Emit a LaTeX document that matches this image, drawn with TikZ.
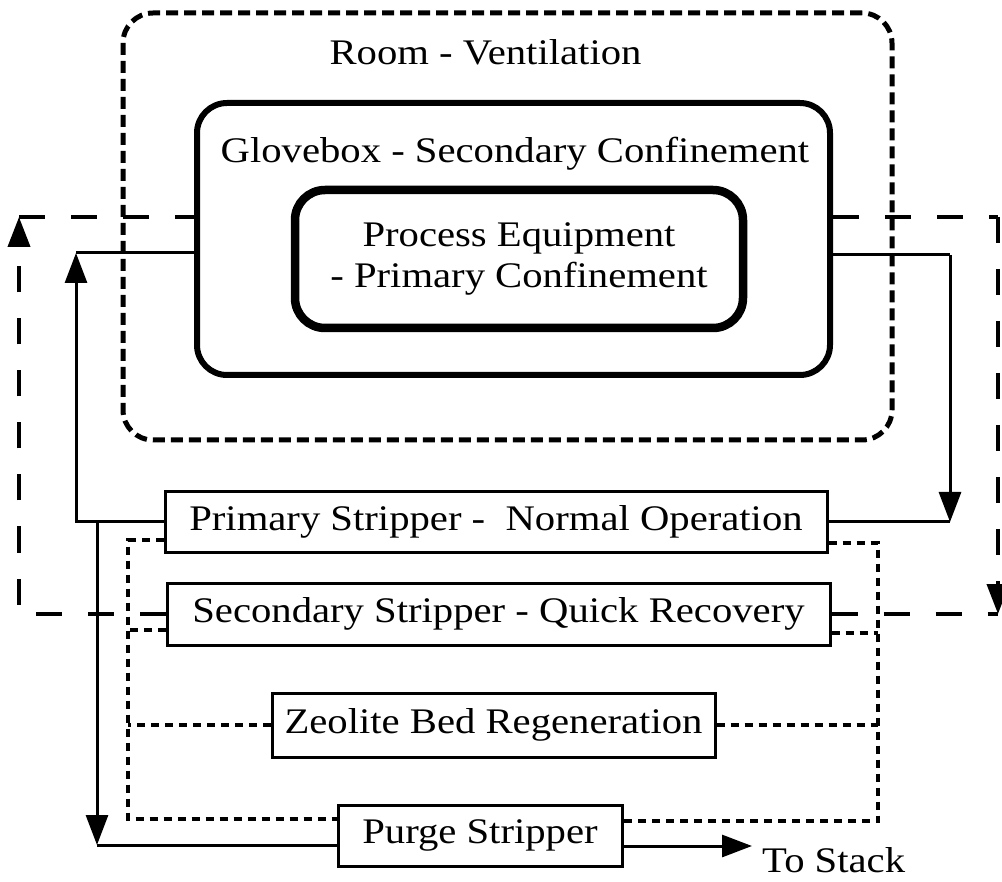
\documentclass[tikz,border=0pt]{standalone}
\usepackage{fontspec}
\setmainfont{Liberation Serif}[FakeStretch=1.13]
\usetikzlibrary{arrows.meta}

\begin{document}
\begin{tikzpicture}[x=1pt,y=-1pt,
  >={Triangle[length=30pt,width=22pt]},
  txt/.style={font=\fontsize{36}{41}\selectfont, inner sep=0pt},
  roombox/.style={draw, line width=5pt, dash pattern=on 12pt off 6pt,
    rounded corners=30pt, inner sep=0pt},
  glovebox/.style={draw, line width=6pt, rounded corners=30pt, inner sep=0pt},
  procbox/.style={draw, line width=8.5pt, rounded corners=30pt, inner sep=0pt,
    align=center, font=\fontsize{36}{41}\selectfont},
  stripbox/.style={draw, line width=3pt, fill=white, inner sep=0pt,
    font=\fontsize{36}{41}\selectfont},
  flow/.style={line width=3pt},
  bypass/.style={line width=4pt, dash pattern=on 26pt off 26pt},
  regen/.style={line width=4pt, dash pattern=on 8pt off 6pt},
]
\useasboundingbox (0,0) rectangle (1002,882);

% confinement layers
\node[roombox, minimum width=769pt, minimum height=427pt] (room) at (507.5,226.5) {};
\node[glovebox, minimum width=633pt, minimum height=272pt] (gb) at (513.5,239) {};
\node[procbox, minimum width=448pt, minimum height=138pt] (proc) at (519,259)
  {Process Equipment\\- Primary Confinement};
\node[txt, anchor=base] (roomlbl) at (485.5,65) {Room - Ventilation};
\node[txt, anchor=base] (gblbl) at (515,163) {Glovebox - Secondary Confinement};

% off-gas treatment units
\node[stripbox, minimum width=662pt, minimum height=60pt] (pri) at (496,522)
  {Primary Stripper -\ \ Normal Operation};
\node[stripbox, minimum width=663pt, minimum height=62pt] (sec) at (498.5,614)
  {Secondary Stripper - Quick Recovery};
\node[stripbox, minimum width=443pt, minimum height=64pt] (zeo) at (493.5,725)
  {Zeolite Bed Regeneration};
\node[stripbox, minimum width=284pt, minimum height=61pt] (pur) at (480,835.5)
  {Purge Stripper};
\node[txt, anchor=base west] (stack) at (762,872) {To Stack};

% routing points
\coordinate (sl) at (76,253);
\coordinate (sr) at (950,255);
\coordinate (jl) at (97,522);
\coordinate (bl) at (97,845);
\coordinate (stk) at (752,846);
\coordinate (dl) at (19,217);
\coordinate (dr) at (998,217);
\coordinate (dtl) at (128,540);
\coordinate (dbl) at (128,819);
\coordinate (dtr) at (878,543);
\coordinate (dbr) at (878,821);
\coordinate (dsl) at (128,630);
\coordinate (dsr) at (878,633);

% normal operation loop
\draw[flow,->] (pri.west) -| (sl);
\draw[flow] (sl) -- (gb.west |- sl);
\draw[flow] (gb.east |- sr) -- (sr);
\draw[flow,->] (sr) -- (pri.east -| sr);
\draw[flow] (pri.east) -- (pri.east -| sr);

% purge path to stack
\draw[flow,->] (jl) -- (bl);
\draw[flow] (bl) -- (bl -| pur.west);
\draw[flow,->] (pur.east |- stk) -- (stk);

% quick recovery loop
\draw[bypass,->] (sec.west) -| (dl);
\draw[bypass] (dl) -- (gb.west |- dl);
\draw[bypass] (gb.east |- dr) -- (dr);
\draw[bypass,->] (dr) -- (dr |- sec.east);
\draw[bypass] (sec.east) -- (sec.east -| dr);

% regeneration lines
\draw[regen] (pri.west |- dtl) -- (dtl) -- (dbl) -- (pur.west |- dbl);
\draw[regen] (pri.east |- dtr) -- (dtr) -- (dbr) -- (pur.east |- dbr);
\draw[regen] (sec.west |- dsl) -- (dsl);
\draw[regen] (sec.east |- dsr) -- (dsr);
\draw[regen] (zeo.west) -- (zeo.west -| dtl);
\draw[regen] (zeo.east) -- (zeo.east -| dtr);
\end{tikzpicture}
\end{document}
